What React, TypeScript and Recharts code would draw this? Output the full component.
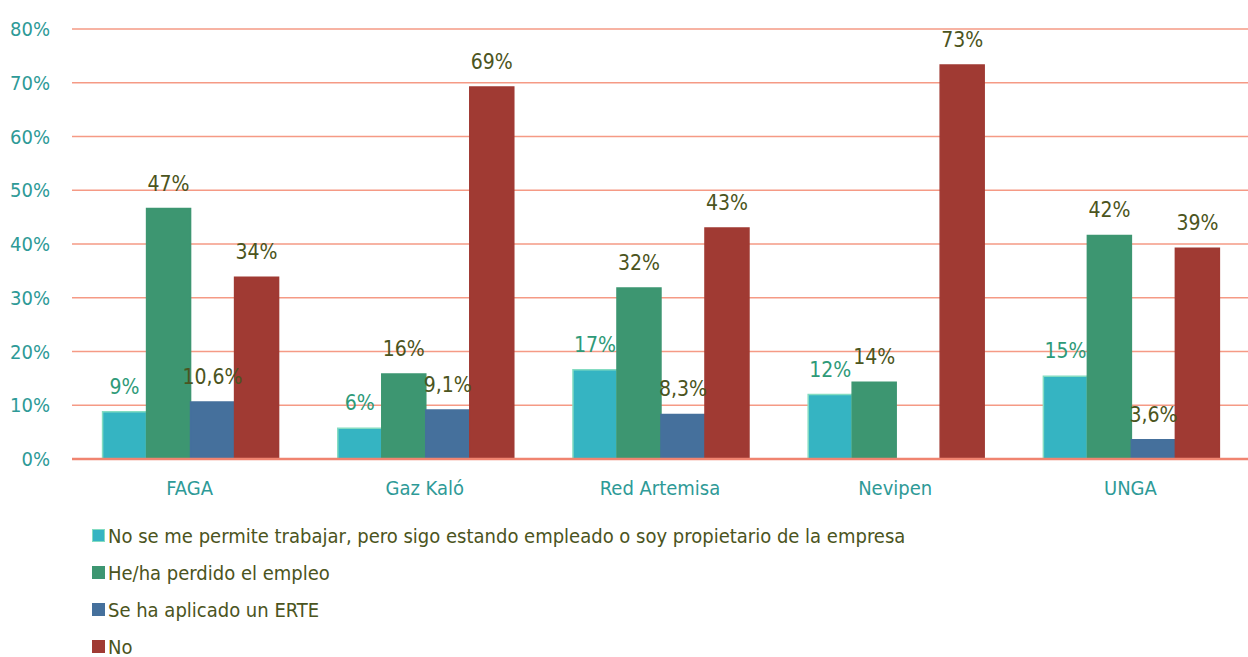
import { BarChart, Bar, XAxis, YAxis, CartesianGrid, Legend, LabelList } from 'recharts';

const entities = ['FAGA', 'Gaz Kaló', 'Red Artemisa', 'Nevipen', 'UNGA'];
const noPermitido = [8.8, 5.7, 16.6, 12, 15.4];
const perdido = [46.6, 15.8, 31.8, 14.3, 41.6];
const erte = [10.6, 9.1, 8.3, 0, 3.6];
const no = [33.8, 69.2, 43, 73.3, 39.2];
const yTicks = [0, 10, 20, 30, 40, 50, 60, 70, 80];

const FONT = '"DejaVu Sans Condensed", "Liberation Sans Narrow", sans-serif';
const TEAL = '#2e9a97';
const OLIVE = '#4b5420';

const series = [
  { key: 'noPermitido', name: 'No se me permite trabajar, pero sigo estando empleado o soy propietario de la empresa', color: '#35b4c2', stroke: '#84dcc2', label: '#2e9a78', decimals: 0 },
  { key: 'perdido', name: 'He/ha perdido el empleo', color: '#3d9671', stroke: '#3d9671', label: OLIVE, decimals: 0 },
  { key: 'erte', name: 'Se ha aplicado un ERTE', color: '#45709c', stroke: '#45709c', label: OLIVE, decimals: 1 },
  { key: 'no', name: 'No', color: '#a03a33', stroke: '#a03a33', label: OLIVE, decimals: 0 },
];

const data = entities.map((name, i) => ({
  name,
  noPermitido: noPermitido[i],
  perdido: perdido[i],
  erte: erte[i] || null,
  no: no[i],
}));

const fmt = (decimals: number) => (v: any) => {
  if (v == null || v === 0) return '';
  const s = decimals ? Number(v).toFixed(decimals).replace('.', ',') : String(Math.round(Number(v)));
  return `${s}%`;
};

function LegendContent() {
  return (
    <div style={{ fontFamily: FONT, fontSize: 20, color: OLIVE }}>
      {series.map((s) => (
        <div key={s.key} style={{ display: 'flex', alignItems: 'center', height: 37 }}>
          <span
            style={{
              display: 'inline-block',
              width: 11,
              height: 11,
              background: s.color,
              border: `1px solid ${s.stroke}`,
              marginRight: 3,
            }}
          />
          <span>{s.name}</span>
        </div>
      ))}
    </div>
  );
}

export default function App() {
  return (
    <div style={{ position: 'absolute', left: 0, top: 0, background: '#fff' }}>
      <BarChart
        width={1248}
        height={657}
        data={data}
        margin={{ top: 29, right: 0, left: 0, bottom: 198 - 40 }}
        barCategoryGap="13%"
        barGap={0}
      >
        <CartesianGrid vertical={false} stroke="#f59a85" strokeWidth={1.5} />
        <XAxis
          dataKey="name"
          height={40}
          tickLine={false}
          tickMargin={16}
          axisLine={{ stroke: '#f08470', strokeWidth: 2.5 }}
          tick={{ fill: TEAL, fontSize: 20, fontFamily: FONT }}
        />
        <YAxis
          width={72}
          domain={[0, 80]}
          ticks={yTicks}
          axisLine={false}
          tickLine={false}
          tickMargin={16}
          tickFormatter={(v) => `${v}%`}
          tick={{ fill: TEAL, fontSize: 20, fontFamily: FONT }}
        />
        <Legend
          layout="vertical"
          align="center"
          verticalAlign="middle"
          wrapperStyle={{ left: 92, top: 517, width: 900 }}
          content={() => <LegendContent />}
        />
        {series.map((s) => (
          <Bar
            key={s.key}
            dataKey={s.key}
            name={s.name}
            fill={s.color}
            stroke={s.stroke}
            strokeWidth={1.5}
            isAnimationActive={false}
          >
            <LabelList
              dataKey={s.key}
              position="top"
              offset={18}
              formatter={fmt(s.decimals)}
              style={{ fill: s.label, fontSize: 21, fontFamily: FONT }}
            />
          </Bar>
        ))}
      </BarChart>
    </div>
  );
}
